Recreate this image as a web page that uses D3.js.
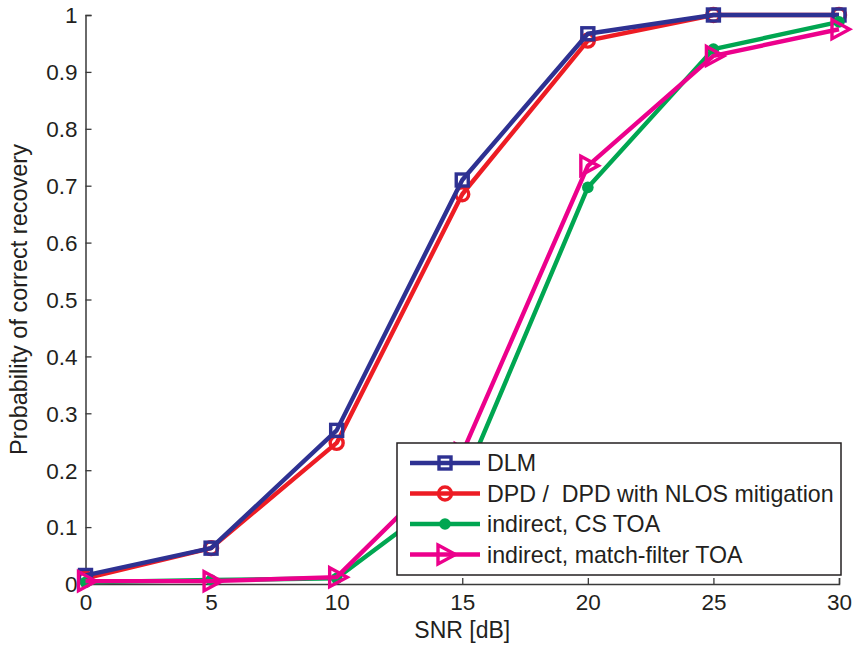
<!DOCTYPE html>
<html><head><meta charset="utf-8">
<script src="https://cdn.jsdelivr.net/npm/d3@7"></script>
<style>body{margin:0;background:#fff}svg{display:block}text{font-family:Arial,"Liberation Sans",sans-serif;fill:#231f20;white-space:pre}</style>
</head><body>
<script>
const snr = [0, 5, 10, 15, 20, 25, 30];
const dlm = [0.015, 0.063, 0.27, 0.71, 0.967, 1.0, 1.0];
const dpd = [0.01, 0.063, 0.248, 0.685, 0.955, 1.0, 1.0];
const csToa = [0.003, 0.007, 0.01, 0.175, 0.697, 0.94, 0.988];
const mfToa = [0.005, 0.005, 0.012, 0.23, 0.735, 0.928, 0.975];
const xTicks = [0, 5, 10, 15, 20, 25, 30];
const yTicks = [0, 0.1, 0.2, 0.3, 0.4, 0.5, 0.6, 0.7, 0.8, 0.9, 1];
const yTickLabels = ["0", "0.1", "0.2", "0.3", "0.4", "0.5", "0.6", "0.7", "0.8", "0.9", "1"];
const seriesNames = ["DLM", "DPD /  DPD with NLOS mitigation", "indirect, CS TOA", "indirect, match-filter TOA"];

const W = 855, H = 649;
const FS = "22.5px";
const svg = d3.select("body").append("svg").attr("width", W).attr("height", H);
const x = d3.scaleLinear().domain([0, 30]).range([85.5, 839]);
const y = d3.scaleLinear().domain([0, 1]).range([584, 15]);

const axCol = "#3a3a3a";
const xa = svg.append("g").attr("transform", `translate(0,${y(0)})`)
  .call(d3.axisBottom(x).tickValues(xTicks).tickSize(-6).tickPadding(10).tickFormat(d3.format("d")));
const ya = svg.append("g").attr("transform", `translate(${x(0)},0)`)
  .call(d3.axisLeft(y).tickValues(yTicks).tickSize(-6).tickPadding(8).tickFormat((d, i) => yTickLabels[i]));
[xa, ya].forEach(a => {
  a.selectAll("path").attr("stroke", axCol).attr("stroke-width", 1.5);
  a.selectAll("line").attr("stroke", axCol).attr("stroke-width", 1.3);
  a.selectAll("text").style("font-size", FS).attr("fill", "#231f20");
});
xa.selectAll("text").attr("dy", "0.71em");
ya.selectAll("text").attr("dy", "0.35em");

svg.append("text").attr("x", (x(0) + x(30)) / 2).attr("y", 638).attr("text-anchor", "middle")
  .style("font-size", "23px").text("SNR [dB]");
svg.append("text").attr("transform", `translate(27,${(y(0) + y(1)) / 2}) rotate(-90)`)
  .attr("text-anchor", "middle").style("font-size", "23.5px").text("Probability of correct recovery");

const colors = {dlm: "#2e3192", dpd: "#ed1c24", cs: "#00a651", mf: "#ec008c"};
const series = [
  {key: "dpd", vals: dpd, color: colors.dpd, marker: "circle", name: seriesNames[1]},
  {key: "dlm", vals: dlm, color: colors.dlm, marker: "square", name: seriesNames[0]},
  {key: "cs", vals: csToa, color: colors.cs, marker: "dot", name: seriesNames[2]},
  {key: "mf", vals: mfToa, color: colors.mf, marker: "tri", name: seriesNames[3]}
];

const line = d3.line().x(d => x(d[0])).y(d => y(d[1]));

function drawMarker(g, type, cx, cy, color) {
  if (type === "square") {
    g.append("rect").attr("x", cx - 6).attr("y", cy - 6).attr("width", 12).attr("height", 12)
      .attr("fill", "none").attr("stroke", color).attr("stroke-width", 3.4);
  } else if (type === "circle") {
    g.append("circle").attr("cx", cx).attr("cy", cy).attr("r", 6.5)
      .attr("fill", "none").attr("stroke", color).attr("stroke-width", 3.4);
  } else if (type === "dot") {
    g.append("circle").attr("cx", cx).attr("cy", cy).attr("r", 5.8).attr("fill", color);
  } else if (type === "tri") {
    g.append("path").attr("d", `M${cx - 7},${cy - 9.5}L${cx + 10.5},${cy}L${cx - 7},${cy + 9.5}Z`)
      .attr("fill", "none").attr("stroke", color).attr("stroke-width", 3.4).attr("stroke-linejoin", "miter");
  }
}

series.forEach(s => {
  const g = svg.append("g");
  const pts = snr.map((v, i) => [v, s.vals[i]]);
  g.append("path").attr("d", line(pts)).attr("fill", "none").attr("stroke", s.color)
    .attr("stroke-width", 4.4).attr("stroke-linejoin", "round");
  pts.forEach(p => drawMarker(g, s.marker, x(p[0]), y(p[1]), s.color));
});

// legend
const lg = svg.append("g");
lg.append("rect").attr("x", 397).attr("y", 443).attr("width", 444).attr("height", 132)
  .attr("fill", "#fff").attr("stroke", "#231f20").attr("stroke-width", 1.5);
const legendOrder = [series[1], series[0], series[2], series[3]];
legendOrder.forEach((s, i) => {
  const yy = 463 + i * 30.5;
  const g = lg.append("g");
  g.append("line").attr("x1", 410).attr("x2", 480).attr("y1", yy).attr("y2", yy)
    .attr("stroke", s.color).attr("stroke-width", 4.4);
  drawMarker(g, s.marker, 445, yy, s.color);
  g.append("text").attr("x", 487).attr("y", yy).attr("dy", "0.36em").style("font-size", "23.2px").text(s.name);
});
</script>
</body></html>
